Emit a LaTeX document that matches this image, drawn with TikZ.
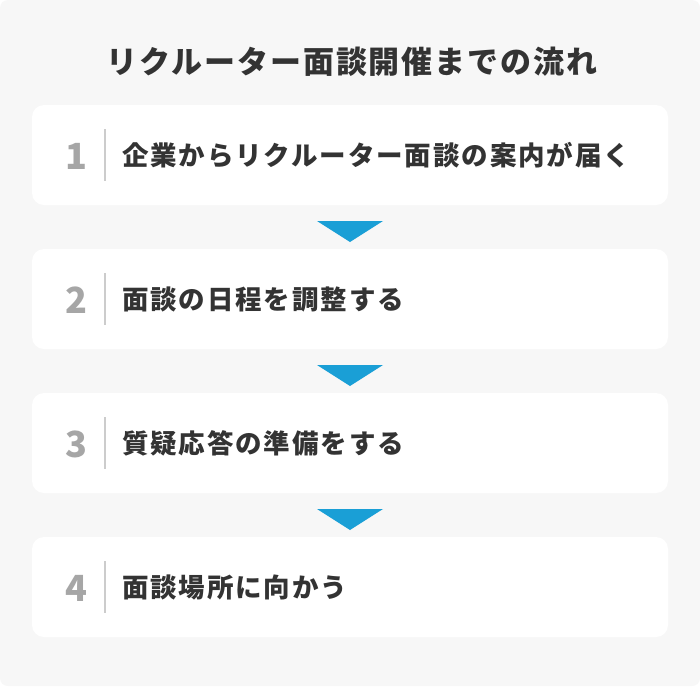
\documentclass[tikz,border=0pt]{standalone}
\usepackage{fontspec}
\setmainfont{Noto Sans CJK JP}
\newfontfamily\cjkls[LetterSpace=7]{Noto Sans CJK JP}
\newfontfamily\cjkti[LetterSpace=6]{Noto Sans CJK JP}
\definecolor{bgc}{HTML}{F7F7F7}
\definecolor{txt}{HTML}{333333}
\definecolor{numc}{HTML}{A6A6A6}
\definecolor{divc}{HTML}{CCCCCC}
\definecolor{arr}{HTML}{1A9FD6}
\tikzset{
  card/.style={fill=white, rounded corners=12pt, draw=none},
  numlbl/.style={anchor=center, inner sep=0pt, text=numc, font=\fontsize{36}{36}\selectfont\bfseries},
  steplbl/.style={anchor=west, inner sep=0pt, text=txt, font=\cjkls\fontsize{26.5}{26.5}\selectfont\bfseries},
  titlelbl/.style={anchor=center, inner sep=0pt, text=txt, font=\cjkti\fontsize{31}{31}\selectfont\bfseries},
  divider/.style={draw=divc, line width=1.5pt},
  arrowtri/.style={fill=arr, draw=none}
}
\begin{document}
\begin{tikzpicture}[x=1pt,y=-1pt]
\fill[white] (0,0) rectangle (700,686);
\fill[bgc, rounded corners=8pt] (0,0) rectangle (700,686);
\useasboundingbox (0,0) rectangle (700,686);
\node[titlelbl] (title) at (352,62) {リクルーター面談開催までの流れ};
\foreach \i/\t [count=\k from 0] in {1/企業からリクルーター面談の案内が届く, 2/面談の日程を調整する, 3/質疑応答の準備をする, 4/面談場所に向かう}{
  \pgfmathsetmacro{\yt}{105+144*\k}
  \pgfmathsetmacro{\yc}{155+144*\k}
  \fill[card] (32,\yt) rectangle (668,\yt+100);
  \node[numlbl] (n\i) at (76,\yc+1) {\i};
  \draw[divider] (105,\yc-26) -- (105,\yc+26);
  \node[steplbl] (s\i) at (122,\yc) {\t};
}
\foreach \k in {0,1,2}{
  \pgfmathsetmacro{\ya}{221+144*\k}
  \fill[arrowtri] (317,\ya) -- (383,\ya) -- (350,\ya+21) -- cycle;
}
\end{tikzpicture}
\end{document}
